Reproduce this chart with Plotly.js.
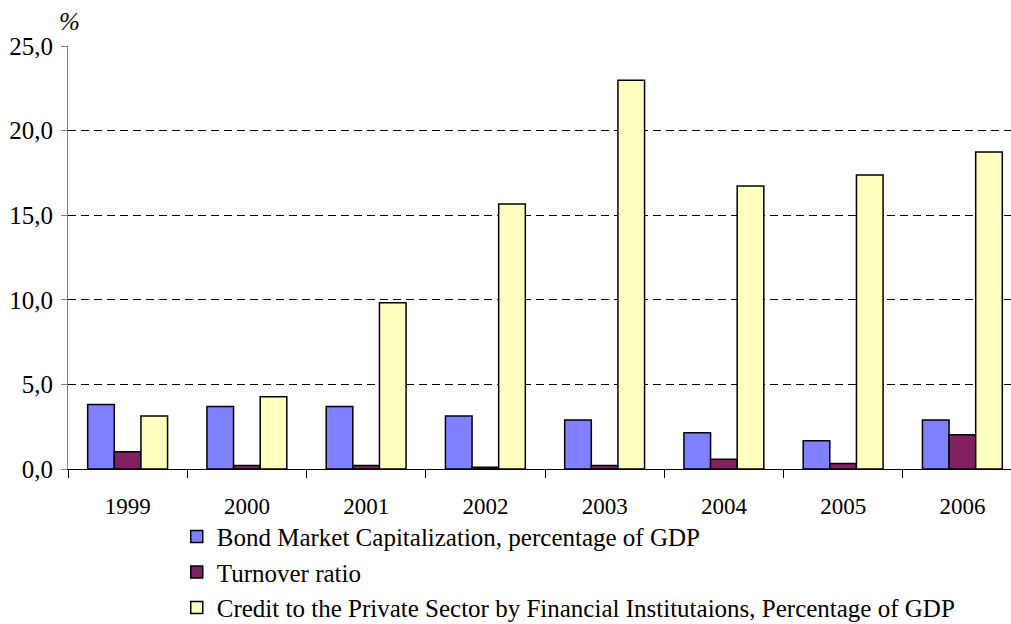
<!DOCTYPE html>
<html><head><meta charset="utf-8">
<script src="https://cdn.plot.ly/plotly-3.0.1.min.js"></script>
<style>html,body{margin:0;padding:0;overflow:hidden;background:#fff}#chart{width:1025px;height:624px}</style>
</head><body><div id="chart"></div>
<script>
const years = ['1999','2000','2001','2002','2003','2004','2005','2006'];
const bondCap = [3.81, 3.70, 3.70, 3.13, 2.89, 2.14, 1.67, 2.89];
const turnover = [1.02, 0.21, 0.21, 0.10, 0.21, 0.57, 0.33, 2.02];
const credit = [3.13, 4.27, 9.82, 15.66, 22.98, 16.72, 17.37, 18.73];
const seriesNames = ['Bond Market Capitalization, percentage of GDP','Turnover ratio','Credit to the Private Sector by Financial Institutaions, Percentage of GDP'];
const yTickVals = [0,5,10,15,20,25];
const yTickText = ['0,0','5,0','10,0','15,0','20,0','25,0'];

const colors = ['#8080FF','#80205F','#FFFFC0'];
const series = [bondCap, turnover, credit];
const traces = series.map((s,i)=>({
  type:'bar', x:years, y:s, name:seriesNames[i], legendgroup:'g'+i,
  marker:{color:colors[i], line:{color:'#000', width:1.5}}, hoverinfo:'none'
}));
const fam = "Liberation Serif";
const xTickFont = {family:fam, size:23, color:'#000'};
const yTickFont = {family:fam, size:25, color:'#000'};
const legFont = {family:fam, size:25, color:'#000'};
Plotly.newPlot('chart', traces, {
  width:1025, height:624,
  margin:{l:68, r:3, t:46, b:155, autoexpand:false},
  paper_bgcolor:'#fff', plot_bgcolor:'#fff',
  font:xTickFont,
  barmode:'group', bargap:0.33, bargroupgap:0,
  showlegend:true,
  legend:{x:0.114, y:-0.106, xanchor:'left', yanchor:'top', orientation:'v', traceorder:'grouped', tracegroupgap:0, font:legFont, bgcolor:'rgba(0,0,0,0)'},
  xaxis:{type:'category', showline:true, linecolor:'#000', linewidth:1, ticks:'outside', tickson:'boundaries', ticklen:8, tickcolor:'#000', showgrid:false, tickfont:xTickFont, ticklabelstandoff:16, fixedrange:true},
  yaxis:{range:[0,25], tickvals:yTickVals, ticktext:yTickText, showline:true, linecolor:'#808080', linewidth:1, ticks:'outside', ticklen:6, tickcolor:'#808080', showgrid:true, gridcolor:'#000', griddash:'8px,5px', gridwidth:1, zeroline:false, tickfont:yTickFont, ticklabelstandoff:3, fixedrange:true},
  annotations:[{text:'<i>%</i>', xref:'paper', yref:'paper', x:0.002, y:1.0, yshift:25, xanchor:'center', yanchor:'middle', showarrow:false, font:{family:fam, size:25, color:'#000'}}]
}, {staticPlot:true});
</script></body></html>
